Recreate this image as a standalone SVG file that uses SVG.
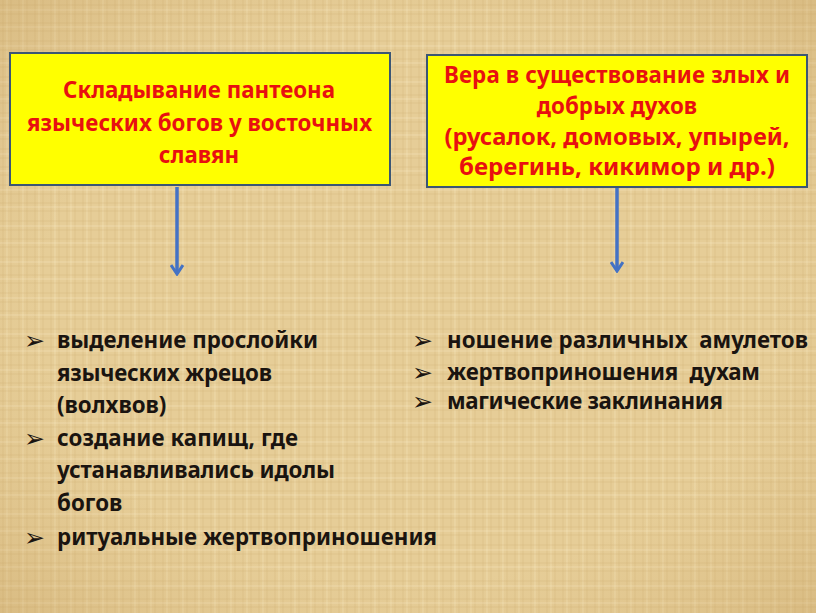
<svg xmlns="http://www.w3.org/2000/svg" width="816" height="613" viewBox="0 0 816 613">
<defs>
<style>
.box{fill:#ffff00;stroke:#3b5674;stroke-width:2}
.ht{font-family:"Noto Sans","Open Sans","DejaVu Sans",sans-serif;font-weight:bold;font-size:22.3px;fill:#e81010;text-anchor:middle}
.lt{font-family:"Noto Sans","Open Sans","DejaVu Sans",sans-serif;font-weight:bold;font-size:22.3px;fill:#1a1410;white-space:pre}
.bl{font-family:"DejaVu Sans",sans-serif;font-size:25px;fill:#1a1410}
.conn{stroke:#4472c4;stroke-width:3.5;fill:none}
</style>
<pattern id="pap" width="48" height="36" patternUnits="userSpaceOnUse">
<rect width="48" height="36" fill="#e6cd97"/>
<path d="M3 0V36M11 0V36M19 0V36M27 0V36M35 0V36M43 0V36" stroke="#d6b97d" stroke-width="1" opacity="0.55"/>
<path d="M7 0V36M23 0V36M39 0V36" stroke="#f3e2b8" stroke-width="1" opacity="0.6"/>
<path d="M0 5H48M0 14H48M0 23H48M0 31H48" stroke="#d1b276" stroke-width="1" opacity="0.35"/>
<path d="M0 10H48M0 27H48" stroke="#f6e8c4" stroke-width="1" opacity="0.4"/>
</pattern>
<radialGradient id="vig" cx="0.5" cy="0.5" r="0.75">
<stop offset="0.6" stop-color="#c9a465" stop-opacity="0"/>
<stop offset="1" stop-color="#b88f4e" stop-opacity="0.35"/>
</radialGradient>
<marker id="ah" viewBox="0 0 12 14" refX="10" refY="7" markerWidth="12" markerHeight="14" markerUnits="userSpaceOnUse" orient="auto">
<path d="M1 1L10 7L1 13" fill="none" stroke="#4472c4" stroke-width="3" stroke-linejoin="miter"/>
</marker>
</defs>
<rect width="816" height="613" fill="url(#pap)"/>
<rect width="816" height="613" fill="url(#vig)"/>

<g id="connectors">
<line class="conn" x1="177" y1="187" x2="177" y2="274" marker-end="url(#ah)"/>
<line class="conn" x1="617" y1="188" x2="617" y2="271" marker-end="url(#ah)"/>
</g>

<g id="node-pantheon">
<rect class="box" x="10" y="53" width="380" height="132"/>
<text class="ht" x="199" y="98" textLength="272" lengthAdjust="spacing">Складывание пантеона</text>
<text class="ht" x="199.5" y="131" textLength="345" lengthAdjust="spacing">языческих богов у восточных</text>
<text class="ht" x="199" y="163">славян</text>
</g>

<g id="node-spirits">
<rect class="box" x="427" y="55" width="380" height="132"/>
<text class="ht" x="617" y="83" textLength="346" lengthAdjust="spacing">Вера в существование злых и</text>
<text class="ht" x="617" y="114">добрых духов</text>
<text class="ht" x="617" y="145" textLength="345" lengthAdjust="spacingAndGlyphs">(русалок, домовых, упырей,</text>
<text class="ht" x="617" y="175" textLength="316" lengthAdjust="spacingAndGlyphs">берегинь, кикимор и др.)</text>
</g>

<g id="list-left">
<text class="bl" x="24" y="349">➢</text>
<text class="lt" x="57" y="348" textLength="261" lengthAdjust="spacing">выделение прослойки</text>
<text class="lt" x="57" y="381" textLength="215" lengthAdjust="spacing">языческих жрецов</text>
<text class="lt" x="57" y="413">(волхвов)</text>
<text class="bl" x="24" y="447">➢</text>
<text class="lt" x="57" y="446" textLength="241" lengthAdjust="spacing">создание капищ, где</text>
<text class="lt" x="57" y="478" textLength="278" lengthAdjust="spacing">устанавливались идолы</text>
<text class="lt" x="57" y="511">богов</text>
<text class="bl" x="24" y="546">➢</text>
<text class="lt" x="57" y="545" textLength="380" lengthAdjust="spacing">ритуальные жертвоприношения</text>
</g>

<g id="list-right">
<text class="bl" x="412" y="349">➢</text>
<text class="lt" x="447" y="348" textLength="361" lengthAdjust="spacing">ношение различных  амулетов</text>
<text class="bl" x="412" y="381">➢</text>
<text class="lt" x="447" y="380" textLength="313" lengthAdjust="spacing">жертвоприношения  духам</text>
<text class="bl" x="412" y="410">➢</text>
<text class="lt" x="447" y="409" textLength="276" lengthAdjust="spacing">магические заклинания</text>
</g>
</svg>
